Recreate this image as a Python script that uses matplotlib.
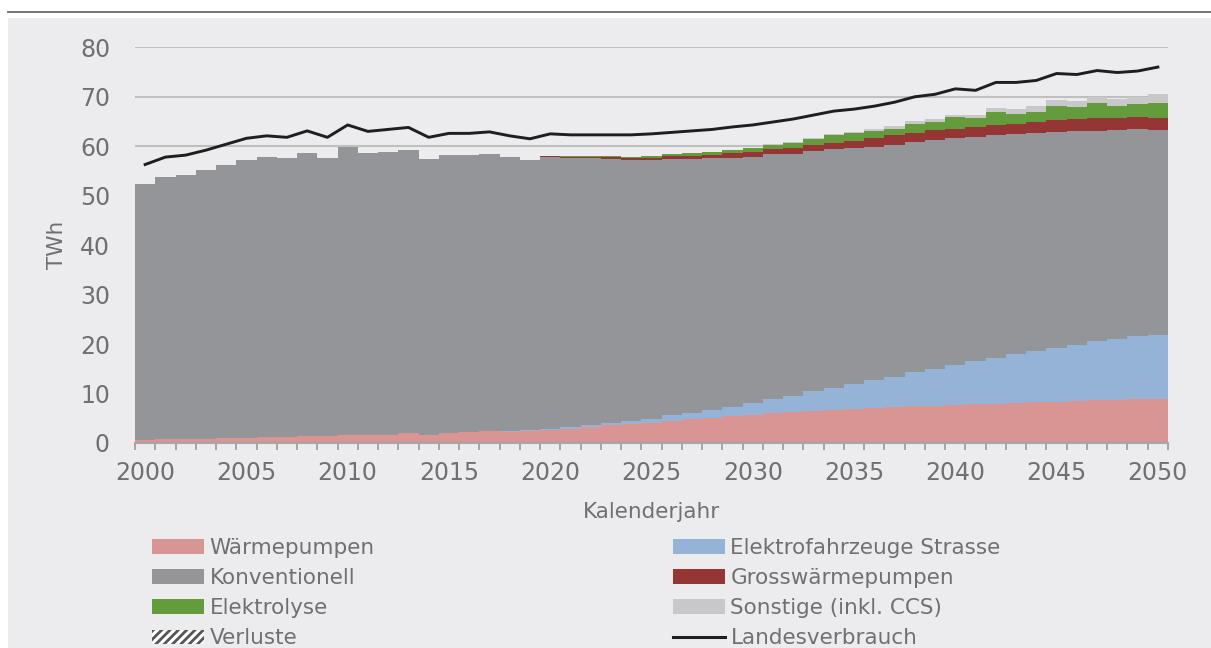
import matplotlib
matplotlib.use("Agg")
import matplotlib.pyplot as plt
from matplotlib.patches import Rectangle, Patch
from matplotlib.lines import Line2D
import numpy as np

years = list(range(2000, 2051))
tick_years = ["2000", "2005", "2010", "2015", "2020", "2025", "2030", "2035", "2040", "2045", "2050"]

waermepumpen = [0.7, 0.8, 0.85, 0.9, 1.0, 1.1, 1.15, 1.2, 1.35, 1.4,
                1.65, 1.55, 1.7, 2.0, 1.7, 2.0, 2.2, 2.36, 2.29, 2.43,
                2.70, 2.90, 3.17, 3.57, 3.77, 4.11, 4.51, 4.78, 5.12, 5.39,
                5.66, 6.00, 6.20, 6.54, 6.74, 6.87, 7.14, 7.28, 7.41, 7.55,
                7.68, 7.82, 7.89, 8.02, 8.22, 8.29, 8.42, 8.63, 8.69, 8.83,
                8.83]
elektrofahrzeuge = [0, 0, 0, 0, 0, 0, 0, 0, 0, 0,
                    0, 0, 0, 0, 0, 0, 0.02, 0.03, 0.05, 0.13,
                    0.13, 0.27, 0.40, 0.41, 0.68, 0.67, 1.08, 1.22, 1.55, 1.96,
                    2.36, 2.83, 3.30, 3.90, 4.31, 5.06, 5.60, 6.13, 6.95, 7.41,
                    8.09, 8.76, 9.30, 9.97, 10.45, 10.98, 11.46, 11.93, 12.34, 12.80,
                    13.07]
konventionell = [51.7, 53.0, 53.3, 54.2, 55.2, 56.2, 56.7, 56.4, 57.3, 56.2,
                 58.1, 57.1, 57.1, 57.2, 55.7, 56.2, 56.1, 56.0, 55.5, 54.6,
                 55.0, 54.45, 54.0, 53.5, 52.8, 52.4, 51.9, 51.5, 50.9, 50.3,
                 49.9, 49.5, 49.0, 48.5, 48.3, 47.8, 47.2, 46.9, 46.4, 46.2,
                 45.8, 45.3, 45.0, 44.4, 44.0, 43.7, 43.2, 42.6, 42.2, 41.8,
                 41.3]
grosswaermepumpen = [0, 0, 0, 0, 0, 0, 0, 0, 0, 0,
                     0, 0, 0, 0, 0, 0, 0, 0, 0, 0,
                     0.25, 0.27, 0.30, 0.30, 0.33, 0.35, 0.47, 0.60, 0.65, 0.90,
                     0.95, 1.07, 1.14, 1.40, 1.35, 1.42, 1.69, 1.89, 1.95, 2.03,
                     1.96, 1.95, 2.08, 2.09, 2.15, 2.29, 2.43, 2.49, 2.42, 2.43,
                     2.56]
elektrolyse = [0, 0, 0, 0, 0, 0, 0, 0, 0, 0,
               0, 0, 0, 0, 0, 0, 0, 0, 0, 0,
               0, 0.07, 0.07, 0.20, 0.27, 0.40, 0.40, 0.54, 0.61, 0.68,
               0.74, 0.81, 1.01, 1.15, 1.49, 1.48, 1.48, 1.34, 1.76, 1.75,
               2.29, 1.96, 2.57, 2.09, 2.16, 2.96, 2.49, 3.10, 2.56, 2.76,
               2.96]
sonstige = [0, 0, 0, 0, 0, 0, 0, 0, 0, 0,
            0, 0, 0, 0, 0, 0, 0, 0, 0, 0,
            0, 0, 0, 0, 0, 0, 0.03, 0.05, 0.08, 0.10,
            0.12, 0.15, 0.18, 0.22, 0.27, 0.20, 0.34, 0.47, 0.60, 0.54,
            0.47, 0.47, 0.87, 0.87, 1.08, 1.08, 1.15, 1.28, 1.28, 1.41,
            1.89]
verluste = [0] * 51
landesverbrauch = [56.3, 57.8, 58.2, 59.2, 60.4, 61.6, 62.1, 61.8, 63.1, 61.8,
                   64.3, 63.0, 63.4, 63.8, 61.8, 62.6, 62.6, 62.9, 62.1, 61.5,
                   62.5, 62.3, 62.3, 62.3, 62.3, 62.5, 62.8, 63.1, 63.4, 63.9,
                   64.3, 64.9, 65.5, 66.3, 67.1, 67.5, 68.1, 68.9, 70.0, 70.5,
                   71.6, 71.3, 72.9, 72.9, 73.3, 74.7, 74.5, 75.3, 74.9, 75.2,
                   76.0]

labels = ["Wärmepumpen", "Elektrofahrzeuge Strasse", "Konventionell",
          "Grosswärmepumpen", "Elektrolyse", "Sonstige (inkl. CCS)", "Verluste"]
series = [waermepumpen, elektrofahrzeuge, konventionell, grosswaermepumpen,
          elektrolyse, sonstige, verluste]
colors = ["#D99594", "#95B3D7", "#939598", "#963634", "#649B3C", "#C8C8CA", "#FFFFFF"]

plt.rcParams['font.family'] = ['DejaVu Sans']
plt.rcParams['hatch.linewidth'] = 2.0
TXT = "#707070"

W, H = 1211, 648
fig = plt.figure(figsize=(W / 100, H / 100), dpi=100)
fig.patch.set_facecolor("white")

# panel background and top rule
fig.patches.append(Rectangle((8 / W, 0), 1 - 8 / W, (H - 17.7) / H,
                             transform=fig.transFigure, facecolor="#ECECEE",
                             edgecolor="none", zorder=-10))
fig.add_artist(Line2D([8 / W, 1], [(H - 11.7) / H] * 2, transform=fig.transFigure,
                      color="#626B71", lw=1.3))

left, right, top, bottom = 135, 1168, 47.3, 443
ax = fig.add_axes([left / W, (H - bottom) / H, (right - left) / W, (bottom - top) / H])
ax.set_facecolor("none")

x = np.arange(len(years))
base = np.zeros(len(years))
for vals, col, lab in zip(series, colors, labels):
    v = np.array(vals, dtype=float)
    if lab == "Verluste":
        ax.bar(x, v, width=1.0, bottom=base, facecolor="white", edgecolor="#555555",
               hatch="////", linewidth=0, zorder=2)
    else:
        ax.bar(x, v, width=1.0, bottom=base, color=col, linewidth=0,
               antialiased=False, zorder=2)
    base = base + v

ax.plot(x, landesverbrauch, color="#1E1E1E", lw=2.1, zorder=4, solid_joinstyle="round")

ax.set_xlim(-0.5, len(years) - 0.5)
ax.set_ylim(0, 80)
ax.set_yticks(range(0, 81, 10))
ax.grid(axis="y", color="#BFBFBF", lw=1.5, zorder=0)
ax.set_axisbelow(True)

ax.set_xticks([years.index(int(t)) for t in tick_years])
ax.set_xticklabels(tick_years)
ax.set_xticks(np.arange(-0.5, len(years), 1.0), minor=True)
ax.tick_params(axis="x", which="major", length=0, pad=13, labelsize=17, labelcolor=TXT)
ax.tick_params(axis="x", which="minor", length=5, width=1.3, color="#A0A0A0", direction="out")
ax.tick_params(axis="y", length=0, pad=18, labelsize=17, labelcolor=TXT)

for s in ["top", "right", "left"]:
    ax.spines[s].set_visible(False)
ax.spines["bottom"].set_color("#A6A6A6")
ax.spines["bottom"].set_linewidth(1.5)
ax.spines["bottom"].set_zorder(5)

ax.set_ylabel("TWh", fontsize=15.5, color=TXT, va="center")
ax.yaxis.set_label_coords((57 - left) / (right - left), 0.5)
ax.set_xlabel("Kalenderjahr", fontsize=15.5, color=TXT, va="center")
ax.xaxis.set_label_coords(0.5, (bottom - 512) / (bottom - top))

# legends
fs = 15.5
h_wp = Patch(facecolor=colors[0], edgecolor="none")
h_ef = Patch(facecolor=colors[1], edgecolor="none")
h_ko = Patch(facecolor=colors[2], edgecolor="none")
h_gw = Patch(facecolor=colors[3], edgecolor="none")
h_el = Patch(facecolor=colors[4], edgecolor="none")
h_so = Patch(facecolor=colors[5], edgecolor="none")
h_ve = Patch(facecolor="white", edgecolor="#555555", hatch="////", linewidth=0)
h_lv = Line2D([], [], color="#1E1E1E", lw=2.2)

common = dict(frameon=False, fontsize=fs, labelcolor=TXT, handlelength=2.42,
              handleheight=0.65, handletextpad=0.25, labelspacing=0.47,
              borderpad=0, borderaxespad=0, loc="upper left")
leg1 = fig.legend([h_wp, h_ko, h_el, h_ve],
                  ["Wärmepumpen", "Konventionell", "Elektrolyse", "Verluste"],
                  bbox_to_anchor=(152 / W, (H - 538) / H), **common)
leg2 = fig.legend([h_ef, h_gw, h_so, h_lv],
                  ["Elektrofahrzeuge Strasse", "Grosswärmepumpen", "Sonstige (inkl. CCS)",
                   "Landesverbrauch"],
                  bbox_to_anchor=(673 / W, (H - 538) / H), **common)

fig.savefig("out.png", dpi=100)
